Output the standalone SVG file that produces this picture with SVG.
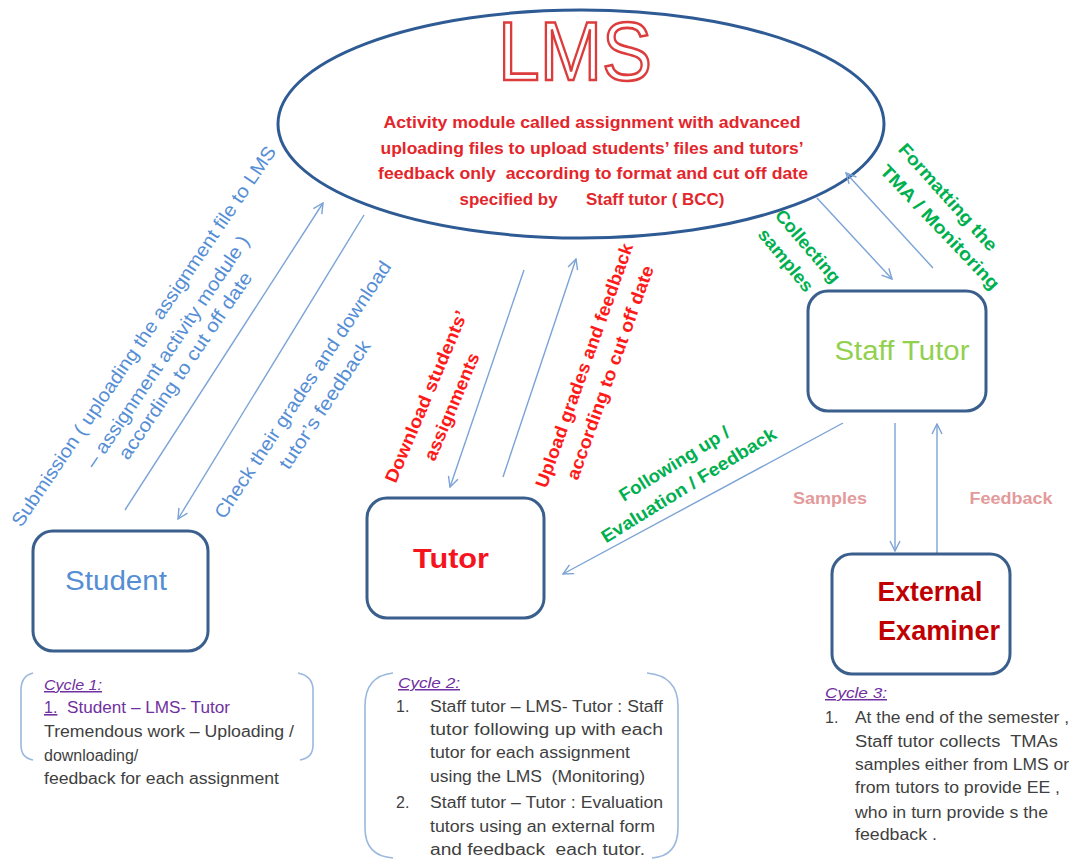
<svg xmlns="http://www.w3.org/2000/svg" width="1073" height="861" viewBox="0 0 1073 861">
<style>
text{font-family:"Liberation Sans",Arial,sans-serif}
.box{fill:#fff;stroke:#3a5f8c;stroke-width:3}
.conn{stroke:#7ba3d6;stroke-width:1.4;fill:none;marker-end:url(#ah)}
.lb{fill:#558ed5;font-size:19px}
.lr{fill:#ff1a1a;font-size:18px;font-weight:bold}
.lg{fill:#00b050;font-size:18px;font-weight:bold}
.lp{fill:#e39a9a;font-size:16px;font-weight:bold}
.lms{fill:#e3262b;font-size:17px;font-weight:bold}
.hd{fill:#7030a0;font-size:15px;font-style:italic;text-decoration:underline}
.pu{fill:#7030a0;font-size:16px}
.tx{fill:#3f3f3f;font-size:16px}
.br{fill:none;stroke:#9bb8dd;stroke-width:1.6}
</style>
<defs>
<marker id="ah" viewBox="0 0 12 12" markerWidth="12" markerHeight="12" refX="11" refY="6" orient="auto" markerUnits="userSpaceOnUse">
<path d="M1,1 L11,6 L1,11" fill="none" stroke="#7ba3d6" stroke-width="1.4"/>
</marker>
</defs>
<rect width="1073" height="861" fill="#fff"/>

<g id="lms">
<ellipse cx="581" cy="124" rx="303" ry="114" fill="#fff" stroke="#2e5b94" stroke-width="3"/>
<text x="498" y="80" font-size="84" textLength="154" lengthAdjust="spacingAndGlyphs" fill="#fff" stroke="#dc3c3c" stroke-width="2.6">LMS</text>
<text class="lms" x="592" y="128" text-anchor="middle" textLength="417" lengthAdjust="spacingAndGlyphs">Activity module called assignment with advanced</text>
<text class="lms" x="592" y="154" text-anchor="middle" textLength="423" lengthAdjust="spacingAndGlyphs">uploading files to upload students’ files and tutors’</text>
<text class="lms" x="593" y="179" text-anchor="middle" textLength="430" lengthAdjust="spacingAndGlyphs" xml:space="preserve">feedback only  according to format and cut off date</text>
<text class="lms" x="592" y="205" text-anchor="middle" textLength="265" lengthAdjust="spacingAndGlyphs" xml:space="preserve">specified by      Staff tutor ( BCC)</text>
</g>

<g id="connectors">
<line class="conn" x1="125" y1="510" x2="323" y2="203"/>
<line class="conn" x1="364" y1="215" x2="178" y2="519"/>
<line class="conn" x1="524" y1="270" x2="450" y2="487"/>
<line class="conn" x1="503" y1="477" x2="576" y2="259"/>
<line class="conn" x1="843" y1="423" x2="563" y2="574"/>
<line class="conn" x1="817" y1="198" x2="892" y2="279"/>
<line class="conn" x1="933" y1="268" x2="846" y2="173"/>
<line class="conn" x1="895" y1="423" x2="895" y2="551"/>
<line class="conn" x1="937" y1="553" x2="937" y2="424"/>
</g>

<g id="connector-labels">
<text class="lb" dy="0.35em" text-anchor="middle" textLength="455" lengthAdjust="spacingAndGlyphs" transform="translate(143.5 336) rotate(-55.8)">Submission ( uploading the assignment file to LMS</text>
<text class="lb" dy="0.35em" text-anchor="middle" textLength="276" lengthAdjust="spacingAndGlyphs" transform="translate(167 351.5) rotate(-55.8)">– assignment activity module )</text>
<text class="lb" dy="0.35em" text-anchor="middle" textLength="222" lengthAdjust="spacingAndGlyphs" transform="translate(185 365.5) rotate(-55.8)">according to cut off date</text>
<text class="lb" dy="0.35em" text-anchor="middle" textLength="304" lengthAdjust="spacingAndGlyphs" transform="translate(302.5 389.5) rotate(-56.5)">Check their grades and download</text>
<text class="lb" dy="0.35em" text-anchor="middle" textLength="150" lengthAdjust="spacingAndGlyphs" transform="translate(324.5 404.5) rotate(-56.5)">tutor’s feedback</text>
<text class="lr" dy="0.35em" text-anchor="middle" textLength="185" lengthAdjust="spacingAndGlyphs" transform="translate(426 396.5) rotate(-67)">Download students’</text>
<text class="lr" dy="0.35em" text-anchor="middle" textLength="115" lengthAdjust="spacingAndGlyphs" transform="translate(451.5 406.5) rotate(-67)">assignments</text>
<text class="lr" dy="0.35em" text-anchor="middle" textLength="258" lengthAdjust="spacingAndGlyphs" transform="translate(584 365.5) rotate(-70.3)">Upload grades and feedback</text>
<text class="lr" dy="0.35em" text-anchor="middle" textLength="226" lengthAdjust="spacingAndGlyphs" transform="translate(610 372.5) rotate(-70.3)">according to cut off date</text>
<text class="lg" dy="0.35em" text-anchor="middle" textLength="126" lengthAdjust="spacingAndGlyphs" transform="translate(674 463.5) rotate(-31.7)">Following up /</text>
<text class="lg" dy="0.35em" text-anchor="middle" textLength="202" lengthAdjust="spacingAndGlyphs" transform="translate(688.5 485) rotate(-31.7)">Evaluation / Feedback</text>
<text class="lg" dy="0.35em" text-anchor="middle" textLength="90" lengthAdjust="spacingAndGlyphs" transform="translate(808 246) rotate(49.5)">Collecting</text>
<text class="lg" dy="0.35em" text-anchor="middle" textLength="76" lengthAdjust="spacingAndGlyphs" transform="translate(786 260) rotate(50.5)">samples</text>
<text class="lg" dy="0.35em" text-anchor="middle" textLength="138" lengthAdjust="spacingAndGlyphs" transform="translate(948 197) rotate(48)">Formatting the</text>
<text class="lg" dy="0.35em" text-anchor="middle" textLength="164" lengthAdjust="spacingAndGlyphs" transform="translate(940 227) rotate(46.5)">TMA / Monitoring</text>
<text class="lp" x="830" y="504" text-anchor="middle" textLength="74" lengthAdjust="spacingAndGlyphs">Samples</text>
<text class="lp" x="1011" y="504" text-anchor="middle" textLength="83" lengthAdjust="spacingAndGlyphs">Feedback</text>
</g>

<g id="student">
<rect class="box" x="33" y="531" width="175" height="120" rx="20"/>
<text x="116" y="590" text-anchor="middle" font-size="27" fill="#558ed5" textLength="102" lengthAdjust="spacingAndGlyphs">Student</text>
</g>

<g id="tutor">
<rect class="box" x="367" y="498" width="177" height="120" rx="20"/>
<text x="451" y="568" text-anchor="middle" font-size="27" font-weight="bold" fill="#f5141e" textLength="76" lengthAdjust="spacingAndGlyphs">Tutor</text>
</g>

<g id="staff-tutor">
<rect class="box" x="808" y="291" width="178" height="120" rx="20"/>
<text x="902" y="360" text-anchor="middle" font-size="27" fill="#92d050" textLength="135" lengthAdjust="spacingAndGlyphs">Staff Tutor</text>
</g>

<g id="external-examiner">
<rect class="box" x="832" y="554" width="178" height="120" rx="20"/>
<text x="930" y="601" text-anchor="middle" font-size="27" font-weight="bold" fill="#c00000" textLength="105" lengthAdjust="spacingAndGlyphs">External</text>
<text x="939" y="640" text-anchor="middle" font-size="27" font-weight="bold" fill="#c00000" textLength="122" lengthAdjust="spacingAndGlyphs">Examiner</text>
</g>

<g id="cycle-1">
<path class="br" d="M33,673 Q21,676 21,690 L21,745 Q21,758 33,760"/>
<path class="br" d="M298,673 Q313,676 313,690 L313,745 Q313,758 300,760"/>
<text class="hd" x="44" y="690" textLength="58" lengthAdjust="spacingAndGlyphs">Cycle 1:</text>
<text class="pu" x="44" y="713"><tspan text-decoration="underline">1.</tspan><tspan x="67" textLength="163" lengthAdjust="spacingAndGlyphs">Student – LMS- Tutor</tspan></text>
<text class="tx" x="44" y="737" textLength="250" lengthAdjust="spacingAndGlyphs">Tremendous work – Uploading /</text>
<text class="tx" x="44" y="761">downloading/</text>
<text class="tx" x="44" y="784" textLength="235" lengthAdjust="spacingAndGlyphs">feedback for each assignment</text>
</g>

<g id="cycle-2">
<path class="br" d="M393,673 Q365,676 365,706 L365,828 Q365,856 393,858"/>
<path class="br" d="M647,673 Q678,676 678,706 L678,828 Q678,856 652,858"/>
<text class="hd" x="398" y="688" textLength="62" lengthAdjust="spacingAndGlyphs">Cycle 2:</text>
<text class="tx" x="396" y="712">1.</text>
<text class="tx" x="430" y="712" textLength="233" lengthAdjust="spacingAndGlyphs">Staff tutor – LMS- Tutor : Staff</text>
<text class="tx" x="430" y="735" textLength="233" lengthAdjust="spacingAndGlyphs">tutor following up with each</text>
<text class="tx" x="430" y="758" textLength="200" lengthAdjust="spacingAndGlyphs">tutor for each assignment</text>
<text class="tx" x="430" y="782" textLength="215" lengthAdjust="spacingAndGlyphs" xml:space="preserve">using the LMS  (Monitoring)</text>
<text class="tx" x="396" y="808">2.</text>
<text class="tx" x="430" y="808" textLength="233" lengthAdjust="spacingAndGlyphs">Staff tutor – Tutor : Evaluation</text>
<text class="tx" x="430" y="832" textLength="225" lengthAdjust="spacingAndGlyphs">tutors using an external form</text>
<text class="tx" x="430" y="855" textLength="215" lengthAdjust="spacingAndGlyphs" xml:space="preserve">and feedback  each tutor.</text>
</g>

<g id="cycle-3">
<text class="hd" x="825" y="698" textLength="62" lengthAdjust="spacingAndGlyphs">Cycle 3:</text>
<text class="tx" x="825" y="723">1.</text>
<text class="tx" x="855" y="723" textLength="214" lengthAdjust="spacingAndGlyphs">At the end of the semester ,</text>
<text class="tx" x="855" y="747" textLength="203" lengthAdjust="spacingAndGlyphs" xml:space="preserve">Staff tutor collects  TMAs</text>
<text class="tx" x="855" y="770" textLength="214" lengthAdjust="spacingAndGlyphs">samples either from LMS or</text>
<text class="tx" x="855" y="793" textLength="205" lengthAdjust="spacingAndGlyphs">from tutors to provide EE ,</text>
<text class="tx" x="855" y="818" textLength="193" lengthAdjust="spacingAndGlyphs">who in turn provide s the</text>
<text class="tx" x="855" y="840" textLength="82" lengthAdjust="spacingAndGlyphs">feedback .</text>
</g>
</svg>
